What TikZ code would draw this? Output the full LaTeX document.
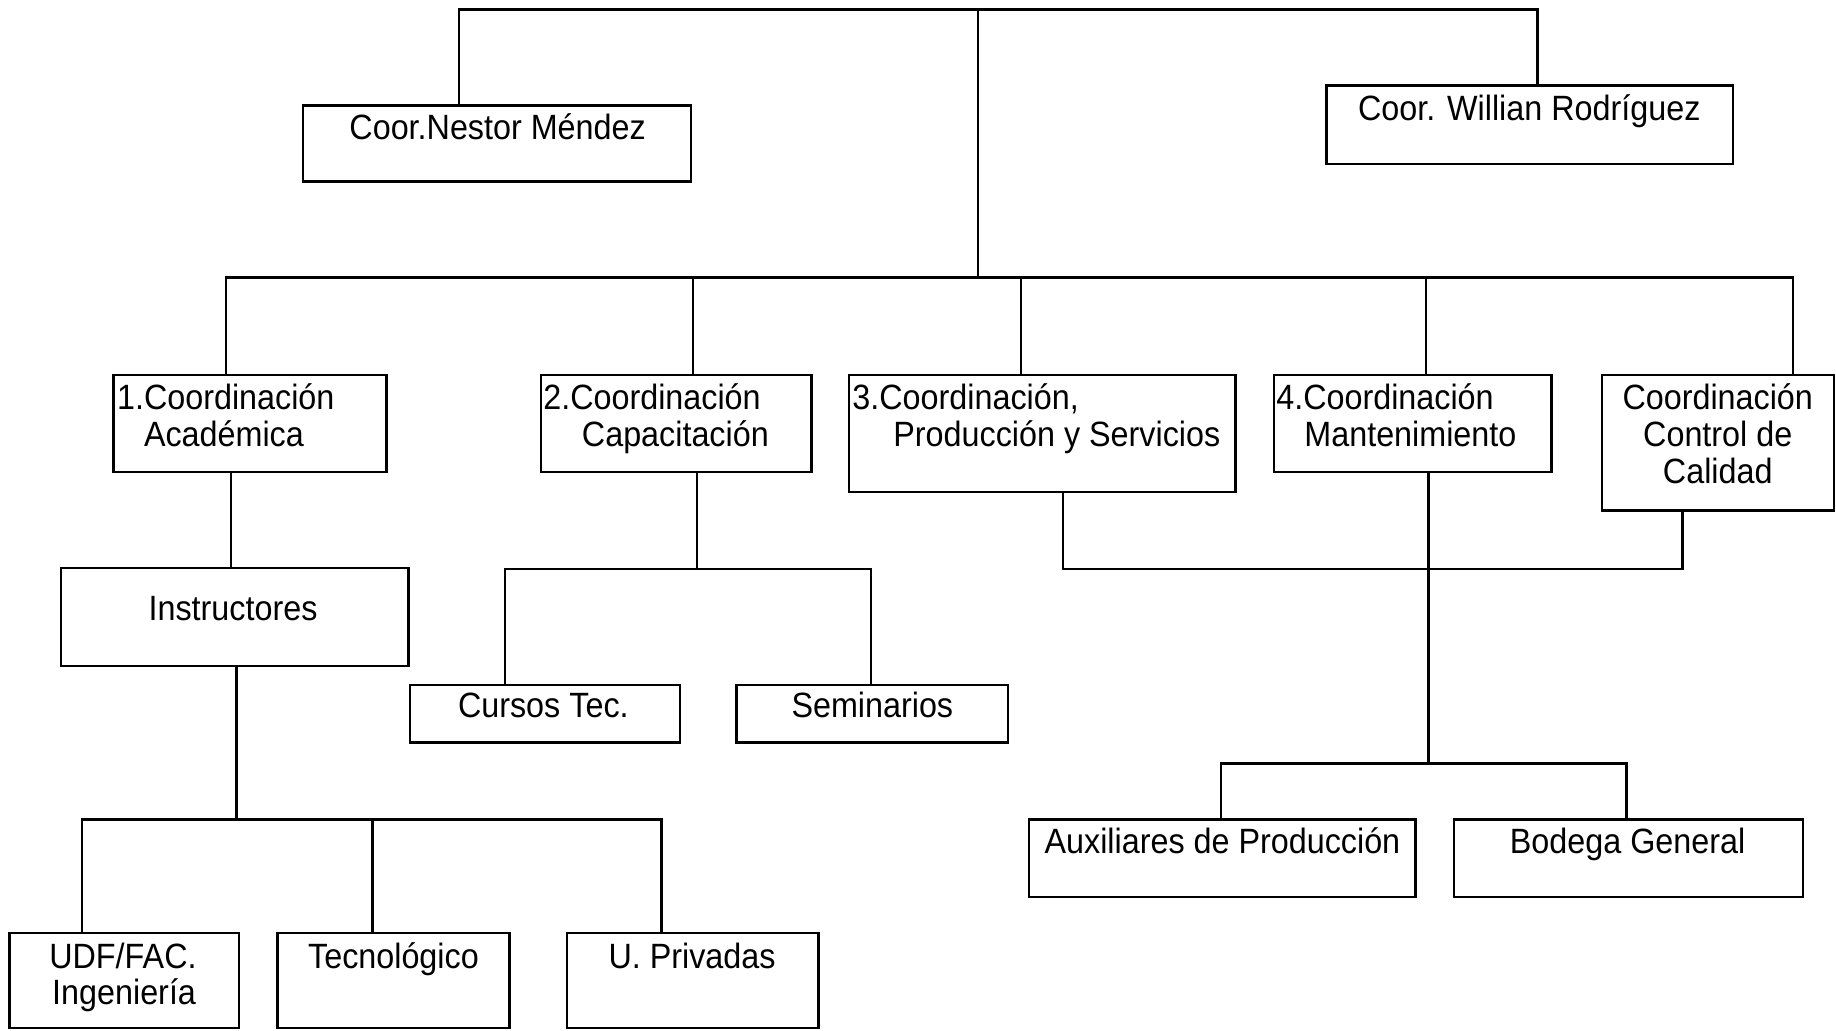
\documentclass[tikz,border=0pt]{standalone}
\usepackage{fontspec}
\setmainfont{Liberation Sans}[FakeStretch=0.92]
\usetikzlibrary{fit}
\begin{document}
\begin{tikzpicture}[x=0.5pt,y=-0.5pt,
  box/.style={draw, line width=1pt, inner sep=0pt, outer sep=0pt},
  txt/.style={inner sep=0pt, outer sep=0pt, font=\fontsize{15}{18}\selectfont},
  wire/.style={line width=1pt}]
\useasboundingbox (0,0) rectangle (1568,880);
% boxes
\node[box, fit={(259,90)(590,155)}] (nestor) {};
\node[box, fit={(1133,73)(1480,140)}] (willian) {};
\node[box, fit={(97,320)(330,403)}] (c1) {};
\node[box, fit={(462,320)(693,403)}] (c2) {};
\node[box, fit={(725,320)(1055,420)}] (c3) {};
\node[box, fit={(1088,320)(1325,403)}] (c4) {};
\node[box, fit={(1368,320)(1566,436)}] (c5) {};
\node[box, fit={(52,485)(349,569)}] (instr) {};
\node[box, fit={(350,585)(581,634)}] (cursos) {};
\node[box, fit={(629,585)(861,634)}] (semin) {};
\node[box, fit={(8,797)(204,878)}] (udf) {};
\node[box, fit={(237,797)(435,878)}] (tecno) {};
\node[box, fit={(484,797)(699,878)}] (upriv) {};
\node[box, fit={(879,700)(1209,766)}] (aux) {};
\node[box, fit={(1242,700)(1540,766)}] (bodega) {};
% texts
\node[txt, anchor=base] (tnestor) at (425,119) {Coor.Nestor Méndez};
\node[txt, anchor=base] (twillian) at (1306,103) {Coor. Willian Rodríguez};
\node[txt, anchor=base west] (tc1a) at (100,350) {1.Coordinación};
\node[txt, anchor=base west] (tc1b) at (123,381) {Académica};
\node[txt, anchor=base west] (tc2a) at (464,350) {2.Coordinación};
\node[txt, anchor=base west] (tc2b) at (497,381) {Capacitación};
\node[txt, anchor=base west] (tc3a) at (728,350) {3.Coordinación,};
\node[txt, anchor=base west] (tc3b) at (763,381) {Producción y Servicios};
\node[txt, anchor=base west] (tc4a) at (1090,350) {4.Coordinación};
\node[txt, anchor=base west] (tc4b) at (1114,381) {Mantenimiento};
\node[txt, anchor=base] (tc5a) at (1467,350) {Coordinación};
\node[txt, anchor=base] (tc5b) at (1467,381) {Control de};
\node[txt, anchor=base] (tc5c) at (1467,413) {Calidad};
\node[txt, anchor=base] (tinstr) at (199,530) {Instructores};
\node[txt, anchor=base] (tcursos) at (464,613) {Cursos Tec.};
\node[txt, anchor=base] (tsemin) at (745,613) {Seminarios};
\node[txt, anchor=base] (tudfa) at (105,827) {UDF/FAC.};
\node[txt, anchor=base] (tudfb) at (106,858) {Ingeniería};
\node[txt, anchor=base] (ttecno) at (336,827) {Tecnológico};
\node[txt, anchor=base] (tupriv) at (591,827) {U. Privadas};
\node[txt, anchor=base] (taux) at (1044,729) {Auxiliares de Producción};
\node[txt, anchor=base] (tbodega) at (1390,729) {Bodega General};
% junction coordinates
\coordinate (ja) at (392,8);
\coordinate (jb) at (1313,8);
\coordinate (jc) at (835,8);
\coordinate (jd) at (835,237);
\coordinate (l1) at (193,237);
\coordinate (l2) at (592,237);
\coordinate (l3) at (872,237);
\coordinate (l4) at (1218,237);
\coordinate (l5) at (1531,237);
\coordinate (i1) at (197,403);
\coordinate (i2) at (202,700);
\coordinate (u1) at (70,700);
\coordinate (u2) at (318,700);
\coordinate (u3) at (565,700);
\coordinate (k1) at (595,486);
\coordinate (k2) at (431,486);
\coordinate (k3) at (744,486);
\coordinate (p1) at (908,486);
\coordinate (p2) at (1437,486);
\coordinate (m1) at (1220,652);
\coordinate (m2) at (1043,652);
\coordinate (m3) at (1389,652);
% connectors
\draw[wire] (ja |- nestor.north) -- (ja) -- (jb) -- (jb |- willian.north);
\draw[wire] (jc) -- (jd);
\draw[wire] (l1 |- c1.north) -- (l1) -- (l5) -- (l5 |- c5.north);
\draw[wire] (l2) -- (l2 |- c2.north);
\draw[wire] (l3) -- (l3 |- c3.north);
\draw[wire] (l4) -- (l4 |- c4.north);
\draw[wire] (i1 |- c1.south) -- (i1 |- instr.north);
\draw[wire] (i2 |- instr.south) -- (i2);
\draw[wire] (u1 |- udf.north) -- (u1) -- (u3) -- (u3 |- upriv.north);
\draw[wire] (u2) -- (u2 |- tecno.north);
\draw[wire] (k1 |- c2.south) -- (k1);
\draw[wire] (k2 |- cursos.north) -- (k2) -- (k3) -- (k3 |- semin.north);
\draw[wire] (p1 |- c3.south) -- (p1) -- (p2) -- (p2 |- c5.south);
\draw[wire] (m1 |- c4.south) -- (m1);
\draw[wire] (m2 |- aux.north) -- (m2) -- (m3) -- (m3 |- bodega.north);
\end{tikzpicture}
\end{document}
